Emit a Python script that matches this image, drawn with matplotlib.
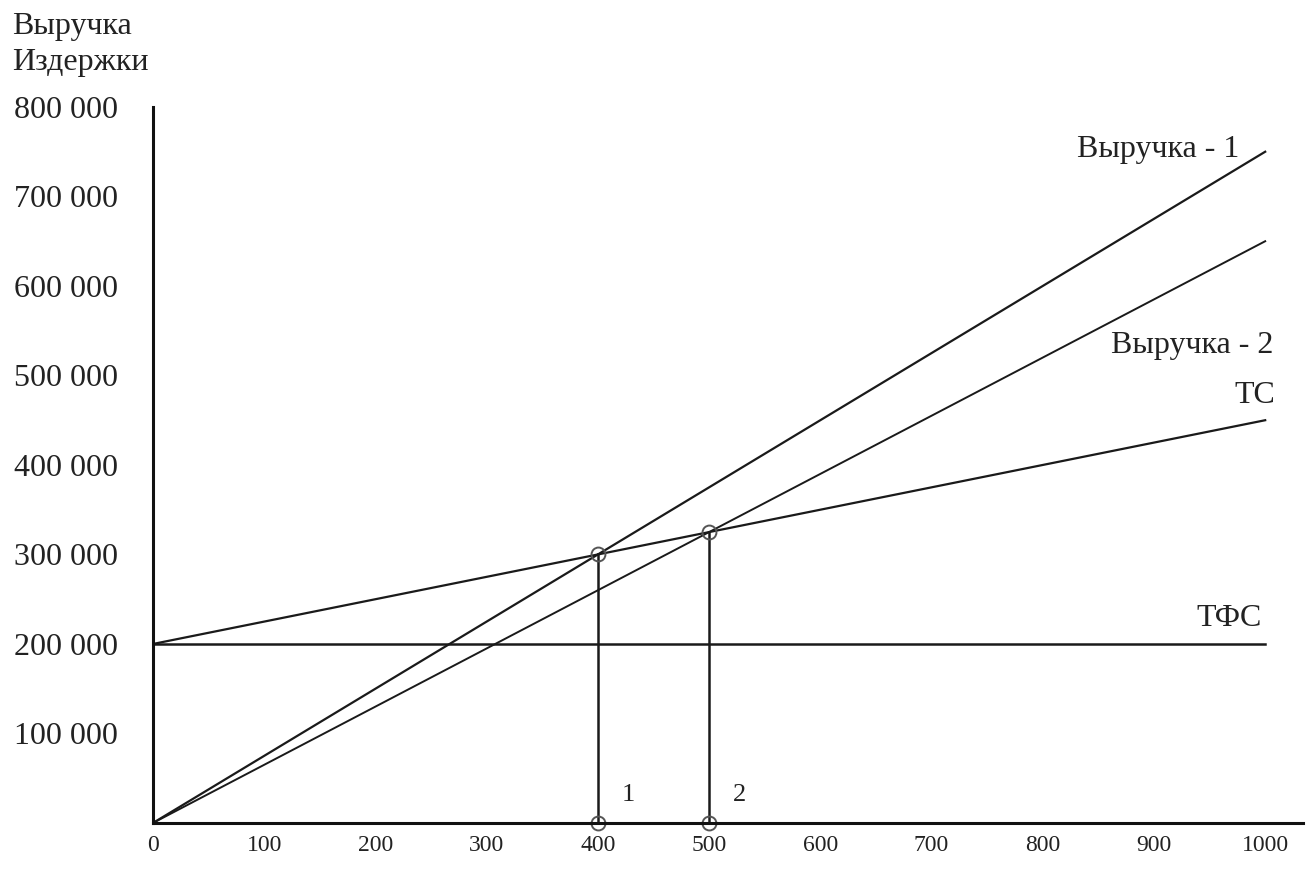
import numpy as np
import matplotlib.pyplot as plt

plt.rcParams['font.family'] = ['Liberation Serif', 'DejaVu Serif']

# volume of output
q = np.array([0, 1000])
fixed_cost = 200000
var_cost = 250      # per unit
price_1 = 750
price_2 = 650

x_ticks = [0, 100, 200, 300, 400, 500, 600, 700, 800, 900, 1000]
y_ticks = [100000, 200000, 300000, 400000, 500000, 600000, 700000, 800000]
y_tick_labels = ['100 000', '200 000', '300 000', '400 000',
                 '500 000', '600 000', '700 000', '800 000']

# break-even points
be_q = [fixed_cost / (price_1 - var_cost), fixed_cost / (price_2 - var_cost)]
be_names = ['1', '2']

tfc = np.full(len(q), fixed_cost)
tc = fixed_cost + var_cost * q
rev1 = price_1 * q
rev2 = price_2 * q

fig = plt.figure(figsize=(13.11, 8.74), dpi=100)
ax = fig.add_axes([0.1167, 0.0584, 0.8772, 0.8192])

lc = '#1a1a1a'
ax.plot(q, rev1, color=lc, linewidth=1.6)
ax.plot(q, rev2, color=lc, linewidth=1.4)
ax.plot(q, tc, color=lc, linewidth=1.6)
ax.plot(q, tfc, color=lc, linewidth=1.8)

for bq in be_q:
    by = fixed_cost + var_cost * bq
    ax.plot([bq, bq], [0, by], color=lc, linewidth=1.8)
    ax.plot([bq, bq], [0, by], linestyle='none', marker='o', markersize=10,
            markerfacecolor='none', markeredgecolor='#555555', markeredgewidth=1.4,
            clip_on=False)

ax.set_xlim(0, 1034)
ax.set_ylim(0, 800000)
ax.set_xticks(x_ticks)
ax.set_xticklabels([str(t) for t in x_ticks], fontsize=17)
ax.set_yticks(y_ticks)
ax.set_yticklabels(y_tick_labels, fontsize=23)
ax.tick_params(axis='x', length=0, pad=9, colors='#222222')
ax.tick_params(axis='y', length=0, pad=25, colors='#222222')

for s in ['top', 'right']:
    ax.spines[s].set_visible(False)
for s in ['left', 'bottom']:
    ax.spines[s].set_linewidth(2.2)
    ax.spines[s].set_color('#111111')

tc_kw = dict(fontsize=23, color='#222222')
ax.text(977, 752000, 'Выручка - 1', ha='right', va='center', **tc_kw)
ax.text(1007, 534000, 'Выручка - 2', ha='right', va='center', **tc_kw)
ax.text(1009, 478000, 'ТС', ha='right', va='center', **tc_kw)
ax.text(997, 229000, 'ТФС', ha='right', va='center', **tc_kw)
for bq, name in zip(be_q, be_names):
    ax.text(bq + 27, 31000, name, ha='center', va='center', fontsize=19, color='#222222')

fig.text(0.009, 0.986, 'Выручка\nИздержки', ha='left', va='top',
         fontsize=23, color='#222222', linespacing=1.3)

fig.savefig('out.png', dpi=100, facecolor='white')
